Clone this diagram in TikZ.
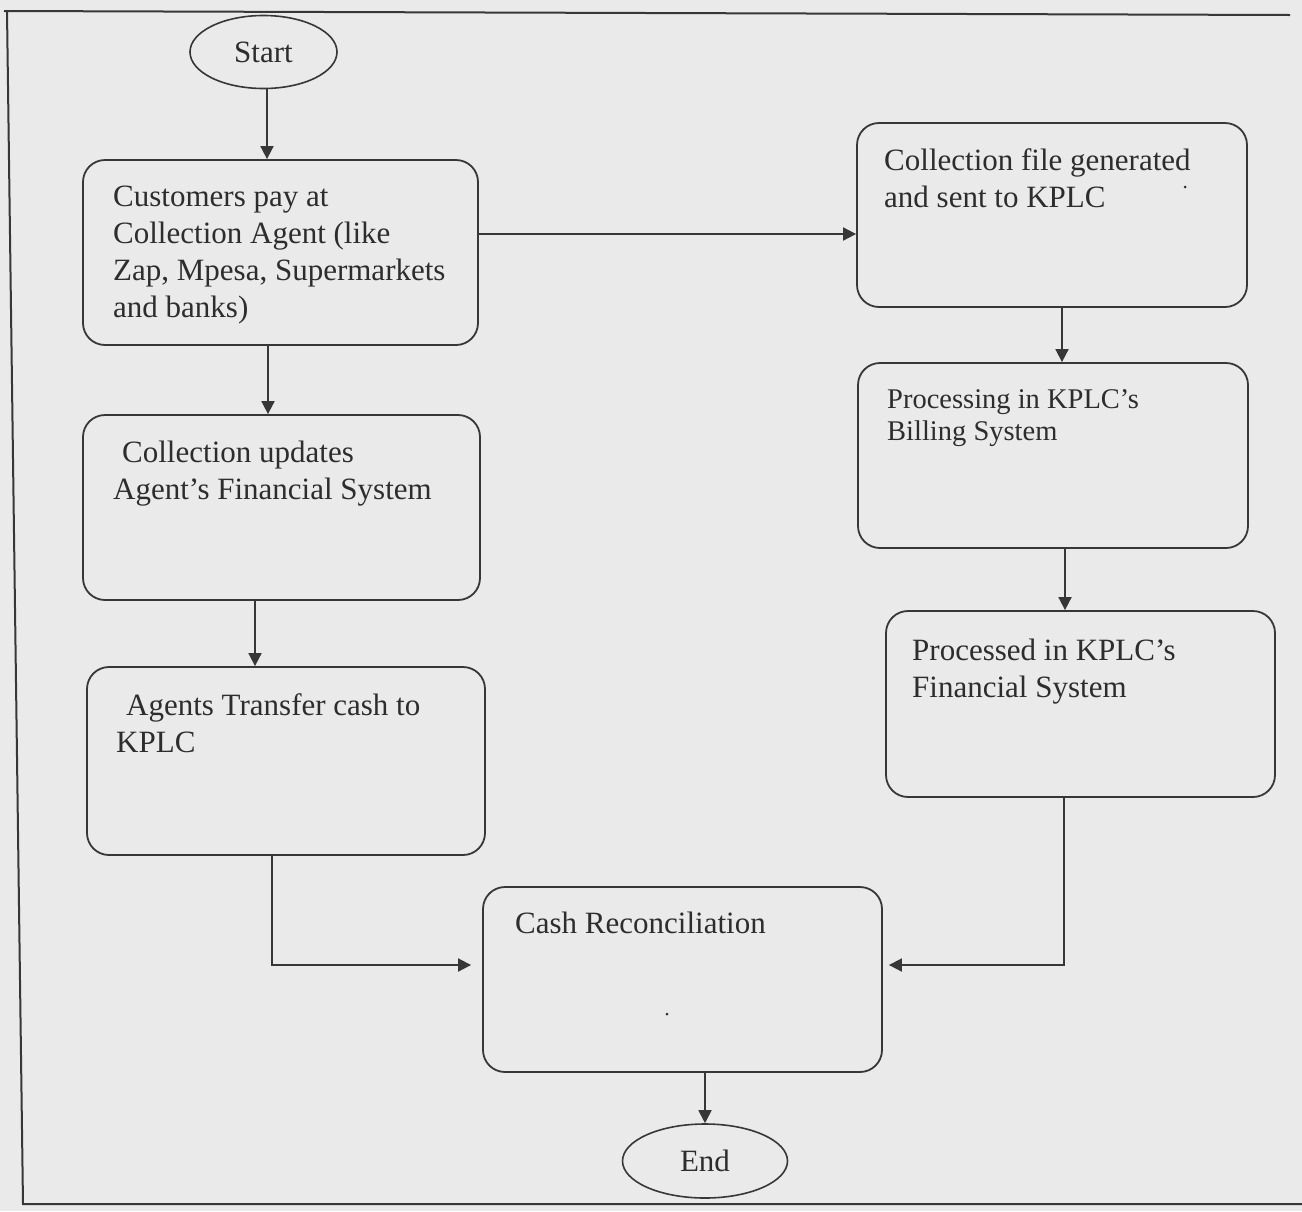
\documentclass[tikz,border=0pt]{standalone}
\usepackage{fontspec}
\setmainfont{Liberation Serif}
\usetikzlibrary{arrows.meta,shapes.geometric,calc}
\definecolor{paper}{RGB}{234,234,234}
\definecolor{ink}{RGB}{55,55,55}
\definecolor{txt}{RGB}{45,45,45}
\begin{document}
\begin{tikzpicture}[x=1pt,y=-1pt,
  box/.style={draw=ink, line width=1.8pt, rounded corners=22pt, fill=paper, inner sep=0pt},
  term/.style={draw=ink, line width=1.6pt, ellipse, inner sep=0pt, fill=paper, text=txt, font=\fontsize{31}{37}\selectfont},
  lbl/.style={anchor=north west, align=left, inner sep=0pt, text=txt, font=\fontsize{31}{37}\selectfont},
  lblsmall/.style={lbl, font=\fontsize{28.5}{32}\selectfont},
  arr/.style={draw=ink, line width=1.8pt, -{Triangle[length=13pt,width=13pt]}},
  frameline/.style={draw=ink, line width=2pt}]
\useasboundingbox (0,0) rectangle (1302,1211);
\fill[paper] (0,0) rectangle (1302,1211);
% frame
\draw[frameline] (4,11) -- (1290,15);
\draw[frameline] (7,11) -- (23,1204) -- (1302,1204);

% terminals
\node[term, minimum width=147pt, minimum height=73pt] (Start) at (263.5,52) {Start};
\node[term, minimum width=165pt, minimum height=74pt] (End) at (705,1161) {End};

% boxes
\node[box, minimum width=395pt, minimum height=185pt] (A) at (280.5,252.5) {};
\node[box, minimum width=397pt, minimum height=185pt] (F) at (281.5,507.5) {};
\node[box, minimum width=398pt, minimum height=188pt] (G) at (286,761) {};
\node[box, minimum width=390pt, minimum height=184pt] (B) at (1052,215) {};
\node[box, minimum width=390pt, minimum height=185pt] (C) at (1053,455.5) {};
\node[box, minimum width=389pt, minimum height=186pt] (D) at (1080.5,704) {};
\node[box, minimum width=399pt, minimum height=185pt] (E) at (682.5,979.5) {};

% texts
\node[lbl] (tA) at (113,184) {\rule{0pt}{22pt}Customers pay at\\Collection Agent (like\\Zap, Mpesa, Supermarkets\\and banks)};
\node[lbl] (tF) at (113,440) {\rule{0pt}{22pt}\hspace*{9pt}Collection updates\\Agent’s Financial System};
\node[lbl] (tG) at (116,693) {\rule{0pt}{22pt}\hspace*{10pt}Agents Transfer cash to\\KPLC};
\node[lbl] (tB) at (884,148) {\rule{0pt}{22pt}Collection file generated\\and sent to KPLC};
\node[lblsmall] (tC) at (887,388) {\rule{0pt}{20pt}Processing in KPLC’s\\Billing System};
\node[lbl] (tD) at (912,638) {\rule{0pt}{22pt}Processed in KPLC’s\\Financial System};
\node[lbl] (tE) at (515,911) {\rule{0pt}{22pt}Cash Reconciliation};
\fill[txt] (1185,187) circle (1.5pt);
\fill[txt] (667,1014) circle (1.5pt);

% helper coordinates
\coordinate (x1) at (267,0);
\coordinate (x2) at (268,0);
\coordinate (x3) at (255,0);
\coordinate (x4) at (272,0);
\coordinate (x5) at (1064,0);
\coordinate (x6) at (1062,0);
\coordinate (x7) at (1065,0);
\coordinate (yA) at (0,234);
\coordinate (yJ) at (0,965);

% connectors
\draw[arr] (Start.south -| x1) -- (A.north -| x1);
\draw[arr] (A.south -| x2) -- (F.north -| x2);
\draw[arr] (F.south -| x3) -- (G.north -| x3);
\draw[arr, shorten >=11pt] (G.south -| x4) |- (E.west |- yJ);
\draw[arr] (A.east |- yA) -- (B.west |- yA);
\draw[arr] (B.south -| x6) -- (C.north -| x6);
\draw[arr] (C.south -| x7) -- (D.north -| x7);
\draw[arr, shorten >=6pt] (D.south -| x5) |- (E.east |- yJ);
\draw[arr] (E.south -| End.north) -- (End.north);
\end{tikzpicture}
\end{document}
